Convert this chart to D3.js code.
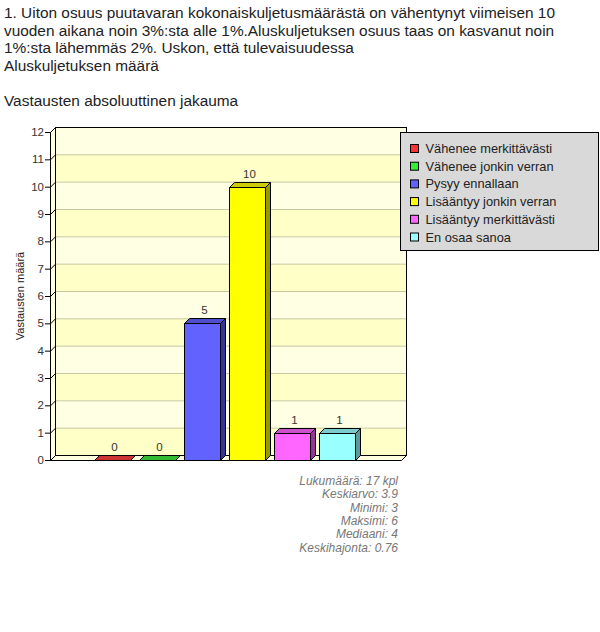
<!DOCTYPE html>
<html>
<head>
<meta charset="utf-8">
<script src="https://cdn.jsdelivr.net/npm/d3@7"></script>
<style>
  body { margin: 0; background: #fff; }
  svg { display: block; font-family: "Liberation Sans", Arial, sans-serif; }
</style>
</head>
<body>
<svg id="chart" width="600" height="632"></svg>
<script>
// data
const titleLines = [
  "1. Uiton osuus puutavaran kokonaiskuljetusmäärästä on vähentynyt viimeisen 10",
  "vuoden aikana noin 3%:sta alle 1%.Aluskuljetuksen osuus taas on kasvanut noin",
  "1%:sta lähemmäs 2%. Uskon, että tulevaisuudessa",
  "Aluskuljetuksen määrä"
];
const subtitle = "Vastausten absoluuttinen jakauma";
const categories = ["Vähenee merkittävästi", "Vähenee jonkin verran", "Pysyy ennallaan",
  "Lisääntyy jonkin verran", "Lisääntyy merkittävästi", "En osaa sanoa"];
const values = [0, 0, 5, 10, 1, 1];
const frontColors = ["#ff3333", "#33ee33", "#6262ff", "#ffff00", "#ff66ff", "#99ffff"];
const topColors = ["#cc3333", "#33bb33", "#4f4fcc", "#cccc00", "#cc52cc", "#7acccc"];
const sideColors = ["#992222", "#228822", "#333399", "#999900", "#993399", "#5c9999"];
const yTicks = d3.range(0, 13);
const yLabel = "Vastausten määrä";
const stats = ["Lukumäärä: 17 kpl", "Keskiarvo: 3.9", "Minimi: 3", "Maksimi: 6", "Mediaani: 4", "Keskihajonta: 0.76"];

const svg = d3.select("#chart");
const depth = 5;
const plot = {left: 50, right: 401, top: 132, bottom: 460};

const y = d3.scaleLinear().domain([0, 12]).range([plot.bottom, plot.top]);
const x = d3.scaleBand().domain(categories)
  .range([89.5, 89.5 + 45 * categories.length])
  .paddingInner(0.2).paddingOuter(0.1);

// title
svg.append("g").selectAll("text")
  .data(titleLines.concat(["", subtitle]))
  .enter().append("text")
  .attr("x", 4)
  .attr("y", (_, i) => 18 + i * 17.5)
  .attr("font-size", 15.4)
  .attr("fill", "#222")
  .text(d => d);

// back wall with alternating bands
const wall = svg.append("g").attr("transform", `translate(${depth},${-depth})`);
wall.selectAll("rect.band")
  .data(yTicks.slice(0, -1))
  .enter().append("rect")
  .attr("x", plot.left)
  .attr("width", plot.right - plot.left)
  .attr("y", d => y(d + 1))
  .attr("height", d => y(d) - y(d + 1))
  .attr("fill", d => d % 2 === 0 ? "#ffffc8" : "#ffffe4");
wall.selectAll("line.grid")
  .data(yTicks.slice(1, -1))
  .enter().append("line")
  .attr("x1", plot.left).attr("x2", plot.right)
  .attr("y1", d => y(d) + 0.5).attr("y2", d => y(d) + 0.5)
  .attr("stroke", "#c8c8a0");
wall.append("rect")
  .attr("x", plot.left + 0.5).attr("y", plot.top + 0.5)
  .attr("width", plot.right - plot.left).attr("height", plot.bottom - plot.top)
  .attr("fill", "none").attr("stroke", "#000");

// left side wall
svg.append("path")
  .attr("d", `M${plot.left + 0.5},${plot.bottom + 0.5} L${plot.left + 0.5},${plot.top + 0.5} L${plot.left + depth + 0.5},${plot.top - depth + 0.5} L${plot.left + depth + 0.5},${plot.bottom - depth + 0.5}Z`)
  .attr("fill", "#ffffe0").attr("stroke", "#000");

// floor
svg.append("path")
  .attr("d", `M${plot.left + 0.5},${plot.bottom + 0.5} L${plot.left + depth + 0.5},${plot.bottom - depth + 0.5} L${plot.right + depth + 0.5},${plot.bottom - depth + 0.5} L${plot.right + 0.5},${plot.bottom + 0.5}Z`)
  .attr("fill", "#ffffe0").attr("stroke", "#000");

// y ticks
const ticks = svg.append("g");
ticks.selectAll("path")
  .data(yTicks)
  .enter().append("path")
  .attr("d", d => `M${plot.left - 5},${y(d) + 0.5} L${plot.left + 0.5},${y(d) + 0.5} L${plot.left + depth + 0.5},${y(d) - depth + 0.5}`)
  .attr("fill", "none").attr("stroke", "#000");
ticks.selectAll("text")
  .data(yTicks)
  .enter().append("text")
  .attr("x", plot.left - 6)
  .attr("y", d => y(d) + 4)
  .attr("text-anchor", "end")
  .attr("font-size", 11.5)
  .attr("fill", "#333")
  .text(d => d);

svg.append("text")
  .attr("transform", `translate(24,${(plot.top + plot.bottom) / 2}) rotate(-90)`)
  .attr("text-anchor", "middle")
  .attr("font-size", 11)
  .attr("fill", "#222")
  .text(yLabel);

// bars
const bars = svg.append("g").selectAll("g")
  .data(values)
  .enter().append("g");
const w = x.bandwidth();
const bx = (_, i) => Math.round(x(categories[i])) + 0.5;
const base = y(0) + 0.5;
bars.append("path") // side
  .attr("d", (d, i) => {
    const x0 = bx(d, i) + w, y0 = Math.round(y(d)) + 0.5;
    return `M${x0},${y0} L${x0 + depth},${y0 - depth} L${x0 + depth},${base - depth} L${x0},${base}Z`;
  })
  .attr("fill", (_, i) => sideColors[i]).attr("stroke", "#000");
bars.append("rect") // front
  .attr("x", bx)
  .attr("y", d => Math.round(y(d)) + 0.5)
  .attr("width", w)
  .attr("height", d => base - (Math.round(y(d)) + 0.5))
  .attr("fill", (_, i) => frontColors[i]).attr("stroke", "#000");
bars.append("path") // top
  .attr("d", (d, i) => {
    const x0 = bx(d, i), y0 = Math.round(y(d)) + 0.5;
    return `M${x0},${y0} L${x0 + depth},${y0 - depth} L${x0 + w + depth},${y0 - depth} L${x0 + w},${y0}Z`;
  })
  .attr("fill", (_, i) => topColors[i]).attr("stroke", "#000");
bars.append("text")
  .attr("x", (d, i) => x(categories[i]) + w / 2 + depth / 2)
  .attr("y", d => y(d) - depth - 4)
  .attr("text-anchor", "middle")
  .attr("font-size", 11.5)
  .attr("fill", "#333")
  .text(d => d);

// legend
const legend = svg.append("g").attr("transform", "translate(400.5,132.5)");
legend.append("rect")
  .attr("width", 198).attr("height", 118)
  .attr("fill", "#d9d9d9").attr("stroke", "#000");
const items = legend.selectAll("g")
  .data(categories)
  .enter().append("g")
  .attr("transform", (_, i) => `translate(10,${12 + i * 17.7})`);
items.append("rect")
  .attr("width", 8).attr("height", 8)
  .attr("fill", (_, i) => frontColors[i]).attr("stroke", "#000");
items.append("text")
  .attr("x", 15).attr("y", 8.5)
  .attr("font-size", 12.8)
  .attr("fill", "#222")
  .text(d => d);

// statistics
svg.append("g").selectAll("text")
  .data(stats)
  .enter().append("text")
  .attr("x", 398)
  .attr("y", (_, i) => 485 + i * 13.3)
  .attr("text-anchor", "end")
  .attr("font-size", 12)
  .attr("font-style", "italic")
  .attr("fill", "#777")
  .text(d => d);
</script>
</body>
</html>
